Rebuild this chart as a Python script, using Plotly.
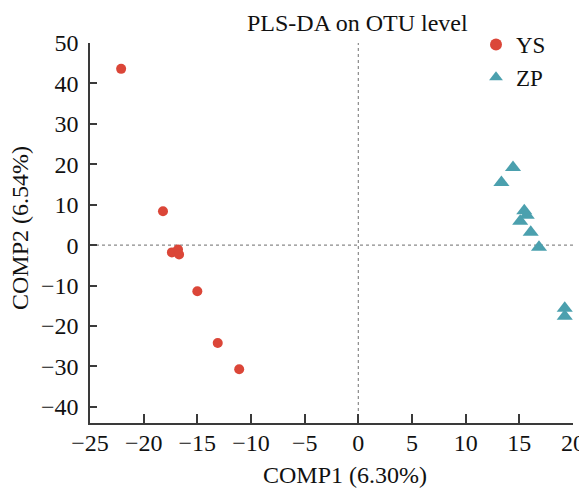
import plotly.graph_objects as go

# Data
ys_comp1 = [-22.1, -18.2, -17.37, -16.8, -16.7, -15.0, -13.1, -11.1]
ys_comp2 = [43.6, 8.4, -1.8, -1.1, -2.3, -11.4, -24.2, -30.7]

zp_comp1 = [14.41, 13.33, 15.46, 15.69, 15.08, 16.06, 16.83, 19.23, 19.23]
zp_comp2 = [19.2, 15.5, 8.5, 7.4, 5.9, 3.2, -0.5, -15.6, -17.6]

x_ticks = [-25, -20, -15, -10, -5, 0, 5, 10, 15, 20]
y_ticks = [-40, -30, -20, -10, 0, 10, 20, 30, 40, 50]

FONT = "Liberation Serif"
RED = "#DB4638"
TEAL = "#4BA0AE"
AXIS = "#3a3a3a"
# page body adds an 8px offset; figure sized to fit the window
W, H = 579, 480
ML, MR, MT, MB = 82, 14, 35, 65
PW, PH = W - ML - MR, H - MT - MB

fig = go.Figure()
fig.add_trace(go.Scatter(x=ys_comp1, y=ys_comp2, mode="markers", name="YS",
                         marker=dict(symbol="circle", size=10, color=RED)))
fig.add_trace(go.Scatter(x=zp_comp1, y=zp_comp2, mode="markers", name="ZP",
                         marker=dict(symbol="triangle-up", size=14, color=TEAL)))

fig.add_shape(type="line", xref="x", yref="paper", x0=0, x1=0, y0=0, y1=1,
              line=dict(color="#8a8a8a", width=1.2, dash="dot"), layer="below")
fig.add_shape(type="line", xref="paper", yref="y", x0=0, x1=1, y0=0, y1=0,
              line=dict(color="#8a8a8a", width=1.2, dash="dot"), layer="below")

fig.update_layout(
    width=W, height=H,
    margin=dict(l=ML, r=MR, t=MT, b=MB, autoexpand=False),
    paper_bgcolor="white", plot_bgcolor="white",
    font=dict(family=FONT, size=24, color="#111111"),
    showlegend=True,
    legend=dict(x=(468 - ML) / PW, y=1 + (MT - 15) / PH, xanchor="left", yanchor="top",
                bgcolor="rgba(0,0,0,0)", font=dict(family=FONT, size=23),
                itemsizing="constant", tracegroupgap=0, itemwidth=30),
    annotations=[
        dict(text="PLS-DA on OTU level", x=(349 - ML) / PW, y=1 + MT / PH,
             xref="paper", yref="paper", xanchor="center", yanchor="top",
             showarrow=False, font=dict(family=FONT, size=24)),
        dict(text="COMP1 (6.30%)", x=(337 - ML) / PW, y=-(467 - MT - PH) / PH,
             xref="paper", yref="paper", xanchor="center", yanchor="middle",
             showarrow=False, font=dict(family=FONT, size=24)),
        dict(text="COMP2 (6.54%)", x=-(ML - 12) / PW, y=(MT + PH - 220) / PH,
             xref="paper", yref="paper", xanchor="center", yanchor="middle",
             textangle=-90, showarrow=False, font=dict(family=FONT, size=24)),
    ],
)

fig.update_xaxes(range=[-25, 20], tickvals=x_ticks, ticktext=[str(v).replace("-", "−") for v in x_ticks],
                 showgrid=False, zeroline=False, showline=True, linecolor=AXIS, linewidth=1.5,
                 ticks="inside", ticklen=9, tickwidth=1.5, tickcolor=AXIS, automargin=False,
                 ticklabelstandoff=-3, tickfont=dict(family=FONT, size=24))
fig.update_yaxes(range=[-44, 50], tickvals=y_ticks, ticktext=[str(v).replace("-", "−") for v in y_ticks],
                 showgrid=False, zeroline=False, showline=True, linecolor=AXIS, linewidth=1.5,
                 ticks="inside", ticklen=7, tickwidth=1.5, tickcolor=AXIS, automargin=False,
                 ticklabelstandoff=5, tickfont=dict(family=FONT, size=24))

fig.write_html("out.html")
